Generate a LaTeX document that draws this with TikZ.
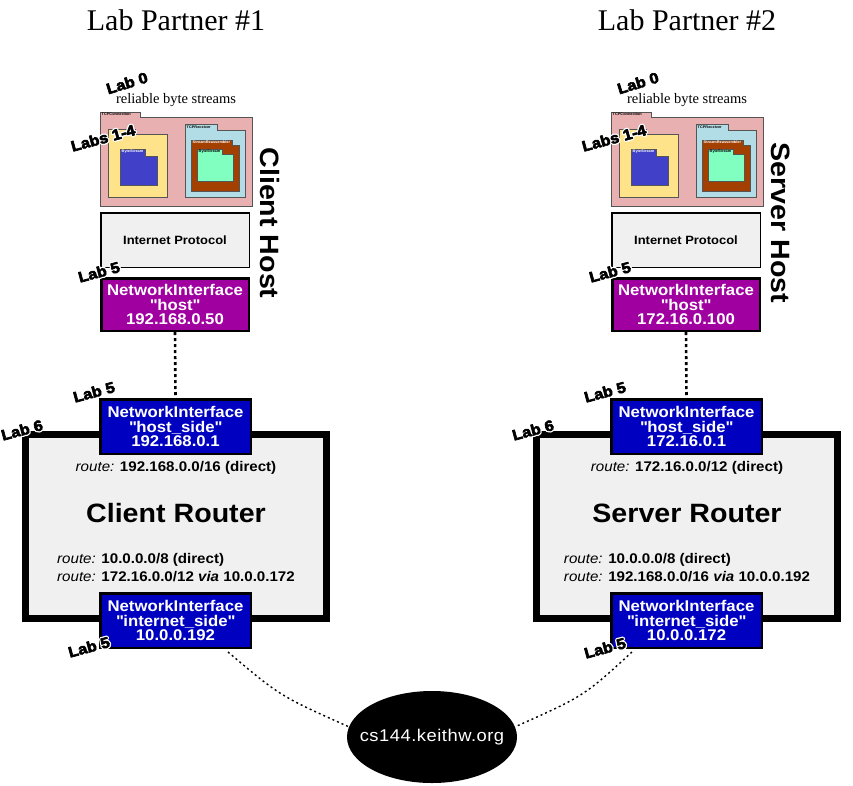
\documentclass[tikz,border=0pt]{standalone}
\usepackage{fontspec}
\setmainfont{Liberation Serif}
\setsansfont{Liberation Sans}[FakeStretch=1.08]
\usetikzlibrary{shapes.geometric,calc}
\definecolor{pinkc}{HTML}{E8B0B0}
\definecolor{yellowc}{HTML}{FFE38A}
\definecolor{bsblue}{HTML}{4040C8}
\definecolor{rcvblue}{HTML}{B3DDE6}
\definecolor{brownc}{HTML}{A34000}
\definecolor{greenc}{HTML}{80FFC0}
\definecolor{grayc}{HTML}{F0F0F0}
\definecolor{purplec}{HTML}{A000A0}
\definecolor{niblue}{HTML}{0000C0}
\definecolor{folderline}{HTML}{555555}
\newcommand\qq{\textquotedbl}
\newcommand\halotext[1]{\special{pdf:literal direct 1 1 1 RG 3.2 w 1 j 1 Tr}#1\special{pdf:literal direct 0 Tr}}
\newcommand\heavytext[1]{\special{pdf:literal direct 0 0 0 RG 0.6 w 1 j 2 Tr}#1\special{pdf:literal direct 0 Tr}}
\tikzset{
  titletxt/.style={font=\fontsize{30}{36}\selectfont, inner sep=0pt},
  smallserif/.style={font=\fontsize{14.5}{16}\selectfont, inner sep=0pt},
  lablbl/.style={font=\sffamily\bfseries\fontsize{15}{17}\selectfont, inner sep=0pt},
  tinylbl/.style={font=\sffamily\bfseries\fontsize{3.6}{4}\selectfont, inner sep=0pt, anchor=north west},
  folderbox/.style={draw=folderline, line width=0.8pt},
  ipbox/.style={draw=black, line width=1.5pt, fill=grayc, minimum width=148.5pt, minimum height=54.5pt, inner sep=0pt,
    font=\sffamily\bfseries\fontsize{12}{14}\selectfont},
  nibox/.style={draw=black, line width=2.5pt, minimum width=150.5pt, minimum height=54.5pt, inner sep=0pt, align=center,
    text=white, font=\sffamily\bfseries\fontsize{15.5}{14.5}\selectfont},
  hostlbl/.style={font=\sffamily\bfseries\fontsize{26.5}{30}\selectfont, inner sep=0pt, rotate=-90},
  routerbox/.style={draw=black, line width=7pt, fill=grayc, minimum width=301pt, minimum height=184pt, inner sep=0pt},
  routername/.style={font=\sffamily\bfseries\fontsize{26.5}{30}\selectfont, inner sep=0pt},
  routetxt/.style={font=\sffamily\fontsize{14}{18}\selectfont, inner sep=0pt},
  vdots/.style={line width=2.6pt, dash pattern=on 3pt off 3pt},
  ldots/.style={line width=1.4pt, dash pattern=on 2pt off 3pt},
  cloudshape/.style={ellipse, fill=black, minimum width=170pt, minimum height=92pt, inner sep=0pt},
  cloudtxt/.style={text=white, inner sep=0pt,
    font=\sffamily\fontsize{17}{20}\selectfont\addfontfeature{LetterSpace=3}},
}
% label with white halo: name, position, angle, text
\newcommand\halolabel[4]{%
  \node[lablbl, rotate=#3] (#1) at (#2) {\rlap{\halotext{#4}}\heavytext{#4}};
}
% folder: x1, ytab, xtab, ymain, x2, y2, colour
\newcommand\folder[7]{%
  \filldraw[folderbox, fill=#7] (#1,#2) -- (#3,#2) -- (#3,#4) -- (#5,#4) -- (#5,#6) -- (#1,#6) -- cycle;
}
% one column
\newcommand\hostcol[9]{%
  \node[titletxt] (#1title) at (176,20) {#2};
  \node[smallserif] (#1rbs) at (176,100) {reliable byte streams};
  \folder{100}{112}{140}{117}{252}{206}{pinkc}
  \node[tinylbl] (#1tcpc) at (101.5,112.8) {TCPConnection};
  \folder{108}{129}{135}{134}{167}{197}{yellowc}
  \folder{120}{149}{145}{156}{157}{185}{bsblue}
  \node[tinylbl, text=white] (#1bs1) at (121.5,150.2) {ByteStream};
  \folder{185}{124}{217}{130}{245}{197}{rcvblue}
  \node[tinylbl] (#1rcv) at (186.5,125.2) {TCPReceiver};
  \folder{191}{140}{232}{145}{239}{191}{brownc}
  \node[tinylbl, text=white] (#1sr) at (192.5,141) {StreamReassembler};
  \folder{197}{149}{222}{154}{233}{181}{greenc}
  \node[tinylbl] (#1bs2) at (198.5,149.8) {ByteStream};
  \halolabel{#1labzero}{127,83}{17}{Lab 0}
  \halolabel{#1labsone}{103,138}{15}{Labs 1-4}
  \node[hostlbl] (#1hostname) at (270,223) {#3};
  \node[ipbox] (#1ip) at (175,240) {Internet Protocol};
  \node[nibox, fill=purplec, minimum width=147.5pt, minimum height=52.5pt] (#1host) at (175,304.5)
    {NetworkInterface\\\qq{}host\qq\\#4};
  \halolabel{#1labfivea}{99,272}{15}{Lab 5}
  \node[routerbox] (#1router) at (176,526.5) {};
  \node[nibox, fill=niblue] (#1hs) at (175.5,426.5) {NetworkInterface\\\qq{}host\_side\qq\\#5};
  \draw[vdots] (#1host.south) -- (#1hs.north);
  \node[routetxt] (#1routeone) at (176,468) {\textit{route:} \textbf{#6}};
  \node[routername] (#1rname) at (176,513) {#7};
  \node[routetxt, align=left] (#1routes) at (176,568)
    {\textit{route:} \textbf{10.0.0.0/8 (direct)}\\\textit{route:} \textbf{#8}};
  \node[nibox, fill=niblue] (#1is) at (175.5,620.5) {NetworkInterface\\\qq{}internet\_side\qq\\#9};
  \halolabel{#1labfiveb}{94,392}{15}{Lab 5}
  \halolabel{#1labsix}{22,430}{15}{Lab 6}
}
\begin{document}
\begin{tikzpicture}[x=1pt, y=-1pt]
\useasboundingbox (0,0) rectangle (853,785);
\hostcol{L}{Lab Partner \#1}{Client Host}{192.168.0.50}{192.168.0.1}{192.168.0.0/16 (direct)}{Client Router}{172.16.0.0/12 \textit{via} 10.0.0.172}{10.0.0.192}
\halolabel{Llabfivec}{89,647}{15}{Lab 5}
\begin{scope}[xshift=511pt]
\hostcol{R}{Lab Partner \#2}{Server Host}{172.16.0.100}{172.16.0.1}{172.16.0.0/12 (direct)}{Server Router}{192.168.0.0/16 \textit{via} 10.0.0.192}{10.0.0.172}
\halolabel{Rlabfivec}{94,648}{15}{Lab 5}
\end{scope}
\node[cloudshape] (cloud) at (432,737) {};
\node[cloudtxt] (cloudlabel) at (cloud.center) {cs144.keithw.org};
\coordinate (lstart) at (228,652);
\coordinate (rstart) at (632,652);
\draw[ldots] (lstart) .. controls (280,696) .. (cloud.173);
\draw[ldots] (rstart) .. controls (584,696) .. (cloud.7);
\end{tikzpicture}
\end{document}
